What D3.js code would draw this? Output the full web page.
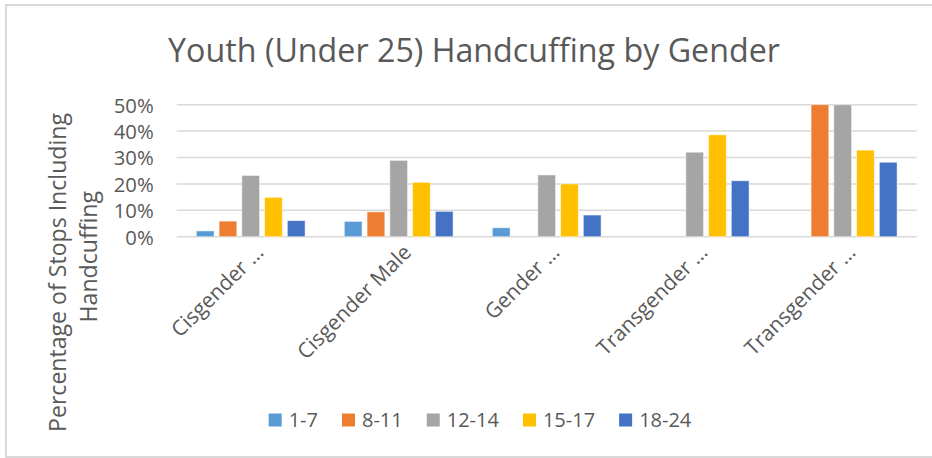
<!DOCTYPE html>
<html>
<head>
<meta charset="utf-8">
<script src="https://cdn.jsdelivr.net/npm/d3@7/dist/d3.min.js"></script>
<style>
  html, body { margin: 0; padding: 0; background: #fff; }
  svg { display: block; }
  text { font-family: "Open Sans", "DejaVu Sans", sans-serif; fill: #595959; }
</style>
</head>
<body>
<svg id="chart" width="932" height="458"></svg>
<script>
// Gender categories (x axis) and age-group series, as share of stops with handcuffing (%)
const categories = ["Cisgender …", "Cisgender Male", "Gender …", "Transgender …", "Transgender …"];
const ageGroups = ["1-7", "8-11", "12-14", "15-17", "18-24"];
const age1to7   = [2.2, 5.8, 3.4, null, null];
const age8to11  = [5.9, 9.4, null, null, 50.0];
const age12to14 = [23.2, 28.9, 23.4, 32.0, 50.0];
const age15to17 = [14.9, 20.6, 20.0, 38.6, 32.8];
const age18to24 = [6.1, 9.6, 8.2, 21.2, 28.2];
const yTicks = [0, 10, 20, 30, 40, 50];
const colors = ["#5B9BD5", "#ED7D31", "#A5A5A5", "#FFC000", "#4472C4"];

const seriesValues = [age1to7, age8to11, age12to14, age15to17, age18to24];
const rows = categories.map((c, i) => ({
  idx: i, category: c,
  values: ageGroups.map((g, j) => ({ group: g, value: seriesValues[j][i] }))
}));

const svg = d3.select("#chart");

// Scale the font of a text element so its rendered width equals target
function fitWidth(sel, target) {
  const node = sel.node();
  const size = parseFloat(sel.attr("font-size"));
  const w = node.getComputedTextLength();
  sel.attr("font-size", (size * target / w).toFixed(2));
  return sel;
}

// Outer frame
svg.append("rect")
  .attr("x", 6).attr("y", 5).attr("width", 940).attr("height", 452)
  .attr("fill", "none").attr("stroke", "#d9d9d9").attr("stroke-width", 2);

const plot = { left: 176.7, right: 916.7, top: 104.7, bottom: 236.7 };

const x = d3.scaleBand().domain(d3.range(categories.length))
  .range([plot.left, plot.right]).paddingInner(0.265).paddingOuter(0.1325);
const xSub = d3.scaleBand().domain(ageGroups)
  .range([0, x.bandwidth()]).paddingInner(0.22).paddingOuter(0);
const y = d3.scaleLinear().domain([0, 50]).range([plot.bottom, plot.top]);

// Gridlines
svg.append("g").selectAll("line").data(yTicks).join("line")
  .attr("x1", plot.left).attr("x2", plot.right)
  .attr("y1", d => y(d)).attr("y2", d => y(d))
  .attr("stroke", "#d9d9d9").attr("stroke-width", 1.5);

// Y axis tick labels
const yAxis = svg.append("g")
  .attr("transform", `translate(${plot.left - 23},0)`)
  .call(d3.axisLeft(y).tickValues(yTicks).tickSize(0).tickPadding(0).tickFormat(d => d + "%"));
yAxis.select(".domain").remove();
yAxis.selectAll("text")
  .attr("font-size", 20).attr("fill", "#595959")
  .attr("font-family", "'Open Sans', sans-serif")
  .attr("dy", "0.36em");
const w50 = yAxis.selectAll("text").filter(d => d === 50).node().getComputedTextLength();
yAxis.selectAll("text").attr("font-size", (20 * 40 / w50).toFixed(2));

// Bars
const groups = svg.append("g").selectAll("g").data(rows).join("g")
  .attr("transform", d => `translate(${x(d.idx)},0)`);
groups.selectAll("rect")
  .data(d => d.values.filter(v => v.value != null && v.value > 0))
  .join("rect")
  .attr("x", d => xSub(d.group))
  .attr("width", xSub.bandwidth())
  .attr("y", d => y(d.value))
  .attr("height", d => y(0) - y(d.value))
  .attr("fill", d => colors[ageGroups.indexOf(d.group)])
  .attr("stroke", "#ffffff").attr("stroke-opacity", 0.5).attr("stroke-width", 1);

// Category labels, rotated
const xLabels = svg.append("g").selectAll("text").data(rows).join("text")
  .attr("text-anchor", "end")
  .attr("font-size", 20)
  .attr("transform", d => `translate(${x(d.idx) + x.bandwidth() / 2 + 14},${plot.bottom + 17}) rotate(-45)`)
  .text(d => d.category);
const wMale = xLabels.filter(d => d.idx === 1).node().getComputedTextLength();
xLabels.attr("font-size", (20 * 151 / wMale).toFixed(2));

// Title
fitWidth(svg.append("text")
  .attr("x", 474).attr("y", 62).attr("text-anchor", "middle")
  .attr("font-size", 32)
  .text("Youth (Under 25) Handcuffing by Gender"), 612);

// Y axis title, two lines
const t1 = svg.append("text")
  .attr("text-anchor", "middle").attr("font-size", 24)
  .attr("transform", "translate(66,272.5) rotate(-90)")
  .text("Percentage of Stops Including");
fitWidth(t1, 319);
const t2 = svg.append("text")
  .attr("text-anchor", "middle").attr("font-size", t1.attr("font-size"))
  .attr("transform", "translate(97,256.7) rotate(-90)")
  .text("Handcuffing");

// Legend
const legend = svg.append("g");
let lx = 0;
const gap = 24;
ageGroups.forEach((g, i) => {
  const item = legend.append("g");
  item.append("rect").attr("x", 0).attr("y", -6.5).attr("width", 13).attr("height", 13).attr("fill", colors[i]);
  const t = item.append("text").attr("x", 20).attr("dy", "0.36em").attr("font-size", 20).text(g);
  item.attr("transform", `translate(${lx},0)`);
  lx += 20 + t.node().getComputedTextLength() + gap;
});
const legendWidth = lx - gap;
legend.attr("transform", `translate(${480 - legendWidth / 2},420)`);
</script>
</body>
</html>
